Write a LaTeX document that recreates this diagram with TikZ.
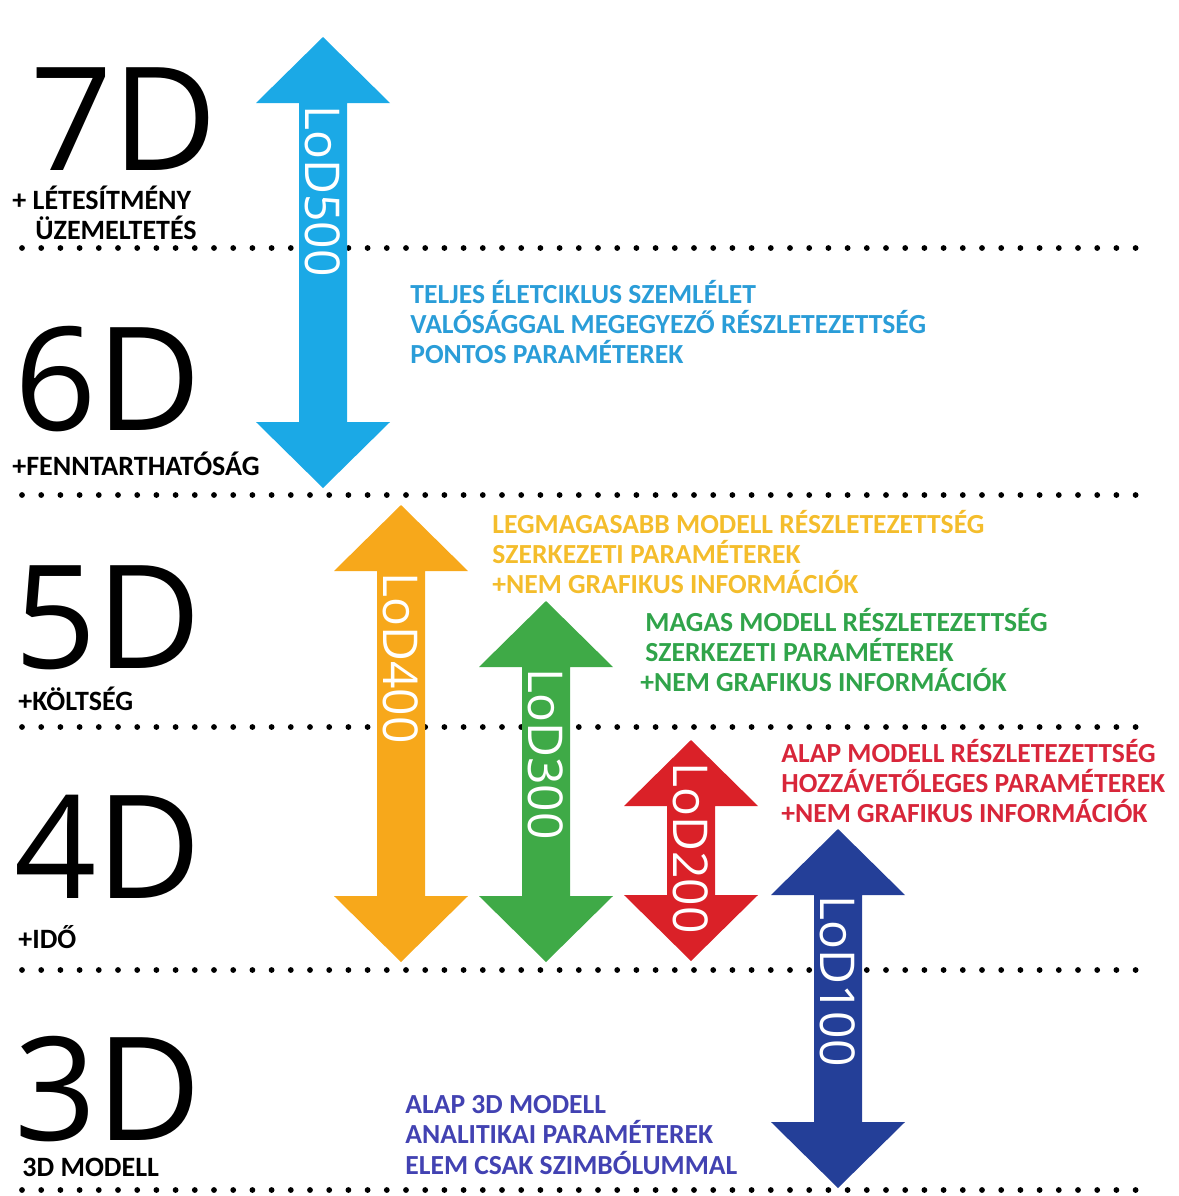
\documentclass[tikz,border=0pt]{standalone}
\usepackage{fontspec}
\setmainfont{Carlito}
\newfontfamily\dimfont{Open Sans}
\usetikzlibrary{positioning}
\definecolor{lodBlue}{HTML}{1BA9E6}
\definecolor{lodOrange}{HTML}{F7A81B}
\definecolor{lodGreen}{HTML}{3FAA47}
\definecolor{lodRed}{HTML}{DA2128}
\definecolor{lodNavy}{HTML}{243F98}
\definecolor{txBlue}{HTML}{2A9DD8}
\definecolor{txOrange}{HTML}{F4BD2C}
\definecolor{txGreen}{HTML}{30A44A}
\definecolor{txRed}{HTML}{D8263A}
\definecolor{txNavy}{HTML}{4242B2}

\tikzset{
  dimlbl/.style={font=\dimfont\fontsize{72}{72}\selectfont, anchor=base west, inner sep=0pt},
  sublbl/.style={font=\bfseries\fontsize{14}{15}\selectfont, anchor=base west, inner sep=0pt},
  desc/.style={font=\bfseries\fontsize{13.8}{15.2}\selectfont, anchor=west, inner sep=0pt, align=left},
  lodtxt/.style={font=\dimfont\fontsize{24}{24}\selectfont, text=white, rotate=-90, anchor=west, inner sep=0pt},
  dotline/.style={line width=2.9pt, line cap=round, dash pattern=on 0pt off 9.6pt},
}

\begin{document}
\begin{tikzpicture}[x=0.5pt, y=-0.5pt]
  \useasboundingbox (0,0) rectangle (1179,1196);

  % level separators
  \foreach \y in {248, 495, 727, 970, 1190}
    \draw[dotline] (22,\y) -- (1138,\y);

  % LoD arrows: colour / centre x / top tip / bottom tip
  \foreach \c/\x/\t/\b in {lodBlue/323/37/488, lodOrange/401/505/962, lodGreen/546/601/962, lodRed/691/740/961, lodNavy/838/829/1188}
    \fill[\c] (\x,\t) -- (\x+67,\t+66) -- (\x+24,\t+66) -- (\x+24,\b-66) -- (\x+67,\b-66)
      -- (\x,\b) -- (\x-67,\b-66) -- (\x-24,\b-66) -- (\x-24,\t+66) -- (\x-67,\t+66) -- cycle;

  \node[lodtxt] (lod500) at (323,105) {LoD500};
  \node[lodtxt] (lod400) at (401,572) {LoD400};
  \node[lodtxt] (lod300) at (546,668) {LoD300};
  \node[lodtxt] (lod200) at (691,762) {LoD200};
  \node[lodtxt] (lod100) at (838,895) {LoD100};

  % dimensions
  \node[dimlbl] (d7) at (30,170) {7D};
  \node[sublbl] (d7a) at (12,209) {+ LÉTESÍTMÉNY};
  \node[sublbl] (d7b) at (35,239) {ÜZEMELTETÉS};
  \node[dimlbl] (d6) at (14,430) {6D};
  \node[sublbl] (d6a) at (12,475) {+FENNTARTHATÓSÁG};
  \node[dimlbl] (d5) at (14,668) {5D};
  \node[sublbl] (d5a) at (18,710) {+KÖLTSÉG};
  \node[dimlbl] (d4) at (14,898) {4D};
  \node[sublbl] (d4a) at (18,948) {+IDŐ};
  \node[dimlbl] (d3) at (14,1140) {3D};
  \node[sublbl] (d3a) at (22,1176) {3D MODELL};

  % descriptions
  \node[desc, text=txBlue] (t500) at (410,322)
    {TELJES ÉLETCIKLUS SZEMLÉLET\\ VALÓSÁGGAL MEGEGYEZŐ RÉSZLETEZETTSÉG\\ PONTOS PARAMÉTEREK};
  \node[desc, text=txOrange] (t400) at (492,552)
    {LEGMAGASABB MODELL RÉSZLETEZETTSÉG\\ SZERKEZETI PARAMÉTEREK\\ +NEM GRAFIKUS INFORMÁCIÓK};
  \node[desc, text=txGreen] (t300) at (645,650)
    {MAGAS MODELL RÉSZLETEZETTSÉG\\ SZERKEZETI PARAMÉTEREK\\ \hspace*{-2.5pt}+NEM GRAFIKUS INFORMÁCIÓK};
  \node[desc, text=txRed] (t200) at (781,781)
    {ALAP MODELL RÉSZLETEZETTSÉG\\ HOZZÁVETŐLEGES PARAMÉTEREK\\ +NEM GRAFIKUS INFORMÁCIÓK};
  \node[desc, text=txNavy] (t100) at (405,1135)
    {ALAP 3D MODELL\\ ANALITIKAI PARAMÉTEREK\\ ELEM CSAK SZIMBÓLUMMAL};
\end{tikzpicture}
\end{document}
